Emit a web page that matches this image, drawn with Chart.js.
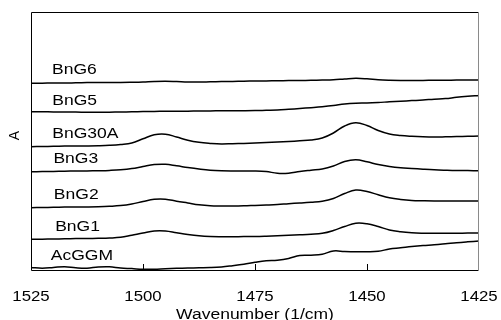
<!DOCTYPE html>
<html>
<head>
<meta charset="utf-8">
<script src="https://cdn.jsdelivr.net/npm/chart.js@4.4.1/dist/chart.umd.min.js"></script>
<style>
  html, body { margin: 0; padding: 0; background: #fff; }
  #wrap { width: 501px; height: 320px; }
</style>
</head>
<body>
<div id="wrap"><canvas id="ir-chart" width="501" height="320"></canvas></div>
<script>
const wavenumbers = [1525, 1522.5, 1520, 1517.5, 1515, 1512.5, 1510, 1507.5, 1505, 1502.5,
  1500, 1497.5, 1495, 1492.5, 1490, 1487.5, 1485, 1482.5, 1480, 1477.5,
  1475, 1472.5, 1470, 1467.5, 1465, 1462.5, 1460, 1457.5, 1455, 1452.5,
  1450, 1447.5, 1445, 1442.5, 1440, 1437.5, 1435, 1432.5, 1430, 1427.5, 1425];

const seriesNames = ["BnG6", "BnG5", "BnG30A", "BnG3", "BnG2", "BnG1", "AcGGM"];

// stacked absorbance traces (offset, arbitrary units)
const bnG6 = [1.867, 1.868, 1.870, 1.870, 1.872, 1.874, 1.875, 1.875, 1.875, 1.877,
  1.880, 1.885, 1.887, 1.884, 1.880, 1.880, 1.882, 1.884, 1.886, 1.888,
  1.890, 1.891, 1.892, 1.894, 1.895, 1.897, 1.899, 1.902, 1.910, 1.917,
  1.912, 1.902, 1.897, 1.895, 1.895, 1.896, 1.897, 1.898, 1.899, 1.900, 1.900];
const bnG5 = [1.583, 1.582, 1.581, 1.580, 1.579, 1.578, 1.577, 1.578, 1.580, 1.582,
  1.584, 1.586, 1.587, 1.587, 1.588, 1.590, 1.591, 1.592, 1.593, 1.593,
  1.594, 1.597, 1.600, 1.607, 1.615, 1.623, 1.632, 1.644, 1.660, 1.668,
  1.670, 1.675, 1.682, 1.688, 1.694, 1.700, 1.708, 1.714, 1.727, 1.737, 1.745];
const bnG30A = [1.233, 1.235, 1.237, 1.239, 1.240, 1.241, 1.243, 1.247, 1.255, 1.270,
  1.312, 1.352, 1.358, 1.330, 1.298, 1.277, 1.266, 1.260, 1.263, 1.266,
  1.270, 1.274, 1.279, 1.285, 1.292, 1.300, 1.320, 1.370, 1.440, 1.472,
  1.445, 1.395, 1.360, 1.345, 1.337, 1.332, 1.330, 1.332, 1.335, 1.337, 1.340];
const bnG3 = [0.983, 0.984, 0.986, 0.988, 0.990, 0.991, 0.993, 0.996, 1.002, 1.014,
  1.035, 1.054, 1.057, 1.042, 1.025, 1.010, 0.998, 0.992, 0.990, 0.990,
  0.991, 0.985, 0.967, 0.968, 0.985, 0.998, 1.010, 1.040, 1.085, 1.102,
  1.082, 1.055, 1.035, 1.022, 1.015, 1.008, 1.002, 0.998, 0.995, 0.994, 0.993];
const bnG2 = [0.623, 0.625, 0.627, 0.629, 0.630, 0.631, 0.633, 0.637, 0.644, 0.660,
  0.685, 0.707, 0.708, 0.688, 0.670, 0.652, 0.642, 0.640, 0.640, 0.642,
  0.646, 0.650, 0.655, 0.663, 0.670, 0.678, 0.688, 0.715, 0.765, 0.800,
  0.785, 0.752, 0.722, 0.705, 0.695, 0.692, 0.690, 0.690, 0.690, 0.690, 0.690];
const bnG1 = [0.307, 0.308, 0.310, 0.312, 0.314, 0.315, 0.317, 0.320, 0.327, 0.348,
  0.370, 0.390, 0.390, 0.372, 0.355, 0.342, 0.335, 0.333, 0.333, 0.334,
  0.335, 0.338, 0.342, 0.347, 0.352, 0.358, 0.367, 0.395, 0.435, 0.467,
  0.462, 0.435, 0.400, 0.382, 0.372, 0.368, 0.367, 0.367, 0.368, 0.369, 0.370];
const acGGM = [0.025, 0.018, 0.025, 0.033, 0.022, 0.018, 0.030, 0.032, 0.020, 0.014,
  0.007, 0.008, 0.013, 0.017, 0.020, 0.022, 0.024, 0.030, 0.043, 0.058,
  0.077, 0.092, 0.098, 0.115, 0.145, 0.148, 0.157, 0.190, 0.185, 0.182,
  0.182, 0.187, 0.210, 0.222, 0.235, 0.245, 0.252, 0.262, 0.273, 0.282, 0.290];

const seriesValues = [bnG6, bnG5, bnG30A, bnG3, bnG2, bnG1, acGGM];

const xTicks = [1525, 1500, 1475, 1450, 1425];
const xTitle = "Wavenumber (1/cm)";
const yTitle = "A";

const FONT = '"Liberation Sans", Arial, sans-serif';

// text in the reference is a bit wider than Arial, so stretch it horizontally
function stretchText(ctx, text, x, y, size, sx, align) {
  ctx.save();
  ctx.font = size + "px " + FONT;
  ctx.textAlign = align;
  ctx.textBaseline = "alphabetic";
  ctx.translate(x, y);
  ctx.scale(sx, 1);
  ctx.fillText(text, 0, 0);
  ctx.restore();
}

const framePlugin = {
  id: "frame",
  afterDraw(chart, args, opts) {
    const { ctx, chartArea: a, scales: { x, y } } = chart;
    ctx.save();
    ctx.lineWidth = 1;

    // frame: black top/left/bottom, grey right edge
    ctx.strokeStyle = "#000";
    ctx.beginPath();
    ctx.moveTo(a.right, a.top + 0.5);
    ctx.lineTo(a.left + 0.5, a.top + 0.5);
    ctx.lineTo(a.left + 0.5, a.bottom + 0.5);
    ctx.lineTo(a.right, a.bottom + 0.5);
    ctx.stroke();
    ctx.strokeStyle = "#8a8a8a";
    ctx.beginPath();
    ctx.moveTo(a.right - 0.5, a.top);
    ctx.lineTo(a.right - 0.5, a.bottom + 1);
    ctx.stroke();

    // inward tick marks
    ctx.strokeStyle = "#000";
    ctx.beginPath();
    xTicks.slice(1, -1).forEach(v => {
      const px = Math.round(x.getPixelForValue(v)) + 0.5;
      ctx.moveTo(px, a.bottom);
      ctx.lineTo(px, a.bottom - 6);
    });
    ctx.stroke();

    ctx.fillStyle = "#000";
    xTicks.forEach(v => stretchText(ctx, String(v), x.getPixelForValue(v), a.bottom + 31, 14, 1.2, "center"));
    stretchText(ctx, xTitle, (a.left + a.right) / 2, a.bottom + 48.5, 14, 1.25, "center");

    ctx.save();
    ctx.translate(a.left - 11.7, (a.top + a.bottom) / 2 - 5.5);
    ctx.rotate(-Math.PI / 2);
    ctx.font = "14px " + FONT;
    ctx.textAlign = "center";
    ctx.fillText(yTitle, 0, 0);
    ctx.restore();

    // trace names
    opts.labelAt.forEach((p, i) => {
      stretchText(ctx, seriesNames[i], x.getPixelForValue(p[0]), y.getPixelForValue(p[1]), 15.5, 1.13, "left");
    });
    ctx.restore();
  }
};

const datasets = seriesNames.map((name, i) => ({
  label: name,
  data: wavenumbers.map((w, j) => ({ x: w, y: seriesValues[i][j] })),
  borderColor: "#000",
  borderWidth: 1.5,
  pointRadius: 0,
  fill: false,
  tension: 0.4,
}));

new Chart(document.getElementById("ir-chart").getContext("2d"), {
  type: "line",
  data: { datasets },
  options: {
    responsive: false,
    animation: false,
    devicePixelRatio: 1,
    layout: { padding: { left: 31, top: 12, right: 22, bottom: 50 } },
    plugins: {
      legend: { display: false },
      tooltip: { enabled: false },
      frame: {
        labelAt: [[1520.3, 1.96], [1520.25, 1.65], [1520.25, 1.323], [1520.0, 1.067],
          [1519.9, 0.71], [1519.6, 0.393], [1520.6, 0.10]],
      },
    },
    scales: {
      x: { type: "linear", min: 1425, max: 1525, reverse: true, display: false },
      y: { type: "linear", min: 0, max: 2.58, display: false },
    },
  },
  plugins: [framePlugin],
});
</script>
</body>
</html>
